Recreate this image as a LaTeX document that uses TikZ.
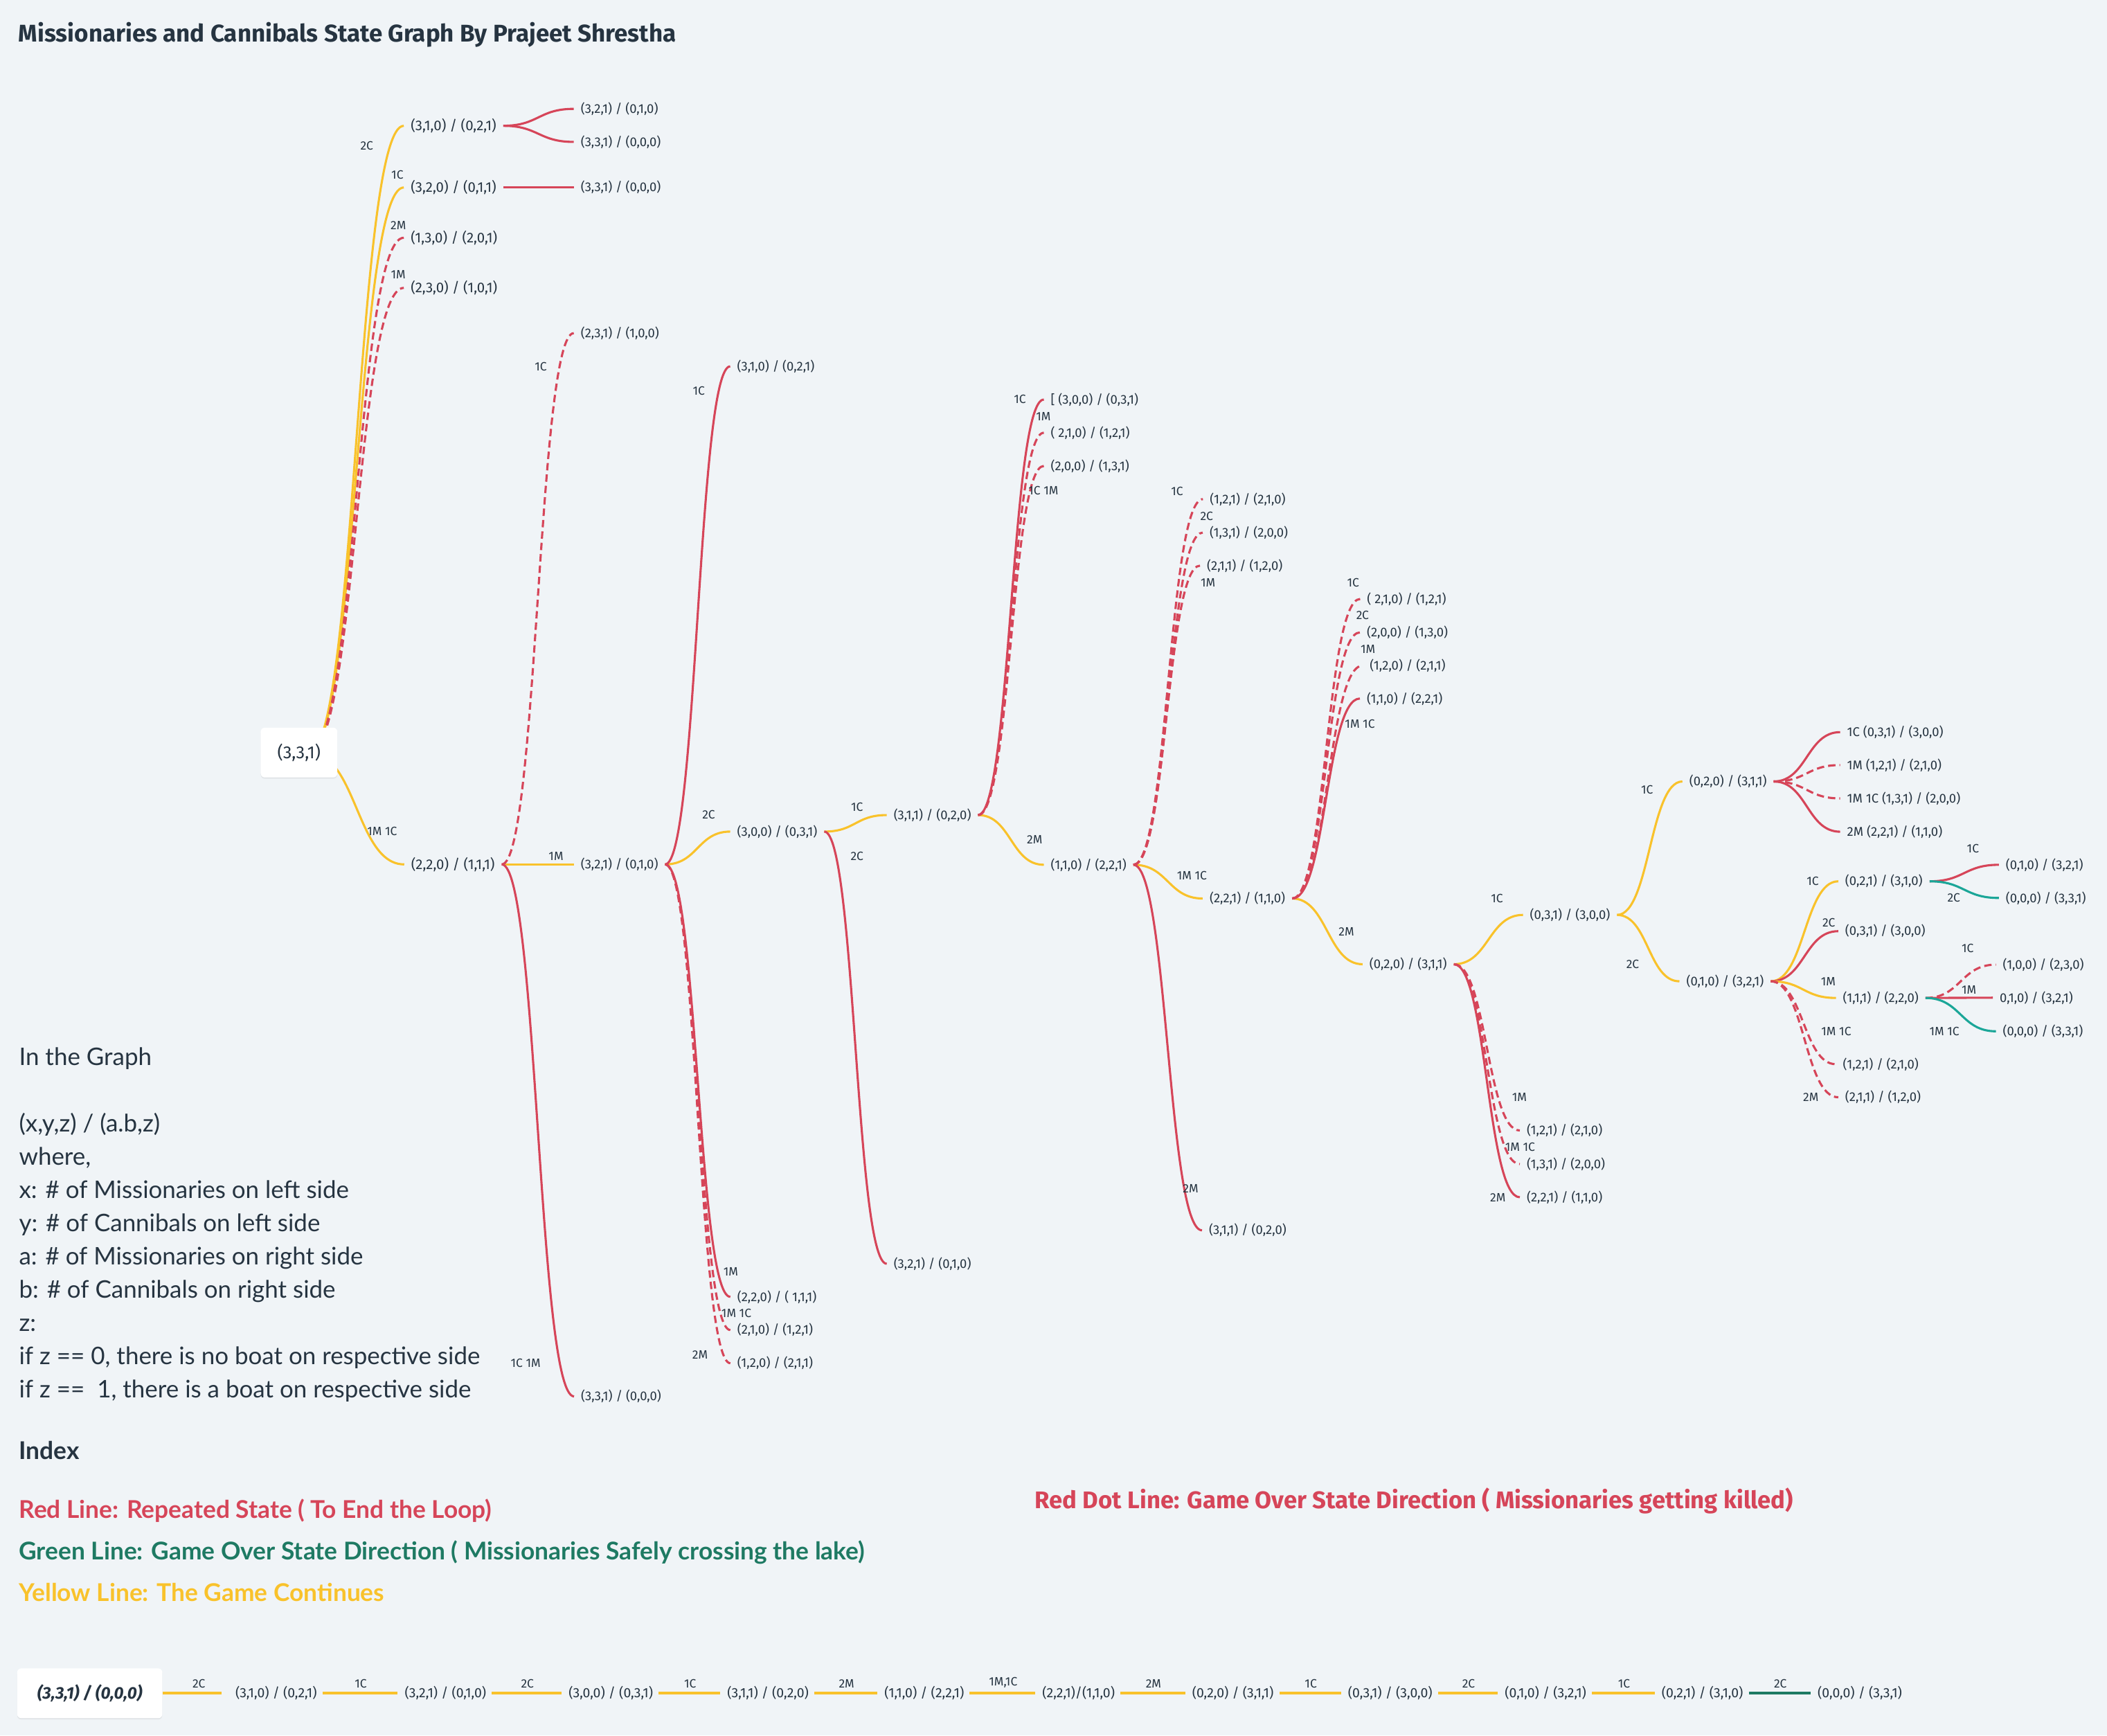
\documentclass[tikz,border=0pt]{standalone}
\usepackage{fontspec}
\setmainfont{Lato}
\newfontfamily\statefont{Fira Sans}
\usetikzlibrary{calc,shadows}

\definecolor{bgcol}{RGB}{240,244,247}
\definecolor{mcred}{RGB}{214,69,89}
\definecolor{mcyellow}{RGB}{249,194,43}
\definecolor{mcteal}{RGB}{27,166,152}
\definecolor{mcgreen}{RGB}{30,122,99}
\definecolor{ink}{RGB}{38,52,65}

\begin{document}
\begin{tikzpicture}[%
 x=1pt, y=-1pt,
 state/.style={
 	anchor=west,
 	inner xsep=5pt,
 	inner ysep=1pt,
 	text=ink,
 	font=\statefont\fontsize{9.5}{10}\selectfont
 },
 state1/.style={
 	state,
 	font=\statefont\fontsize{10.5}{12}\selectfont
 },
 move/.style={
 	text=ink,
 	inner sep=1pt,
 	font=\statefont\fontsize{9}{10}\selectfont
 },
 link/.style={
 	line width=1.6pt,
 	to path={let \p1=(\tikztostart), \p2=(\tikztotarget) in
 	 .. controls ({(\x1+\x2)/2},\y1) and ({(\x1+\x2)/2},\y2) .. (\tikztotarget)}
 },
 golink/.style={link, draw=mcyellow},
 replink/.style={link, draw=mcred},
 deadlink/.style={link, draw=mcred, dash pattern=on 5.5pt off 3pt},
 winlink/.style={link, draw=mcteal},
 notetext/.style={
 	anchor=base west,
 	inner sep=0pt,
 	text=ink,
 	font=\fontsize{18}{22}\selectfont
 },
 keytext/.style={
 	anchor=base west,
 	inner sep=0pt,
 	font=\bfseries\fontsize{18.2}{22}\selectfont
 },
 whitebox/.style={
 	fill=white,
 	rounded corners=3pt,
 	text=ink,
 	drop shadow={shadow xshift=0pt, shadow yshift=-1pt, opacity=0.06, fill=black}
 },
 seqstate/.style={
 	anchor=west,
 	inner xsep=0pt,
 	text=ink,
 	font=\statefont\fontsize{10}{11}\selectfont
 },
 seqline/.style={
 	line width=2.2pt,
 	draw=mcyellow,
 	shorten <=4pt,
 	shorten >=5pt
 }
 ]
\useasboundingbox (0,0) rectangle (1568,1291.3);
\fill[bgcol] (0,0) rectangle (1568,1291.3);

\node[anchor=base west, inner sep=0pt, text=ink, font=\statefont\bfseries\fontsize{18}{22}\selectfont] (title) at (13.7,31.4) {Missionaries and Cannibals State Graph By Prajeet Shrestha};

% states
\coordinate (rootc) at (230,560);
\path (300.5,93.6) node[state1] (A1) {(3,1,0) / (0,2,1)}
 (300.5,139.5) node[state1] (A2) {(3,2,0) / (0,1,1)}
 (300.5,176.9) node[state1] (A3) {(1,3,0) / (2,0,1)}
 (300.5,214.2) node[state1] (A4) {(2,3,0) / (1,0,1)}
 (300.8,643.2) node[state1] (A5) {(2,2,0) / (1,1,1)};
\path (427,81) node[state] (B1) {(3,2,1) / (0,1,0)}
 (427,105.6) node[state] (B2) {(3,3,1) / (0,0,0)}
 (427,139.5) node[state] (B3) {(3,3,1) / (0,0,0)}
 (427,247.9) node[state] (B4) {(2,3,1) / (1,0,0)}
 (427,643.2) node[state] (B5) {(3,2,1) / (0,1,0)}
 (427.2,1039.1) node[state] (B6) {(3,3,1) / (0,0,0)};
\path (543.4,272.6) node[state] (C1) {(3,1,0) / (0,2,1)}
 (543.4,618.8) node[state] (C2) {(3,0,0) / (0,3,1)}
 (543.5,965) node[state] (C3) {(2,2,0) / ( 1,1,1)}
 (543.5,989.7) node[state] (C4) {(2,1,0) / (1,2,1)}
 (543.5,1014.4) node[state] (C5) {(1,2,0) / (2,1,1)};
\path (659.9,606.5) node[state] (D1) {(3,1,1) / (0,2,0)}
 (659.9,940.4) node[state] (D2) {(3,2,1) / (0,1,0)};
\path (776.8,297.3) node[state] (E1) {[ (3,0,0) / (0,3,1)}
 (776.8,322) node[state] (E2) {( 2,1,0) / (1,2,1)}
 (776.8,346.7) node[state] (E3) {(2,0,0) / (1,3,1)}
 (776.8,643.5) node[state] (E4) {(1,1,0) / (2,2,1)};
\path (895.2,371.4) node[state] (F1) {(1,2,1) / (2,1,0)}
 (895,396.3) node[state] (F2) {(1,3,1) / (2,0,0)}
 (893,420.9) node[state] (F3) {(2,1,1) / (1,2,0)}
 (895,668.6) node[state] (F4) {(2,2,1) / (1,1,0)}
 (894.5,915.5) node[state] (F5) {(3,1,1) / (0,2,0)};
\path (1012.2,445.7) node[state] (G1) {( 2,1,0) / (1,2,1)}
 (1012,470.6) node[state] (G2) {(2,0,0) / (1,3,0)}
 (1014.2,495.2) node[state] (G3) {(1,2,0) / (2,1,1)}
 (1012,519.8) node[state] (G4) {(1,1,0) / (2,2,1)}
 (1014,717.5) node[state] (G5) {(0,2,0) / (3,1,1)};
\path (1133.4,680.8) node[state] (H1) {(0,3,1) / (3,0,0)}
 (1131,841.2) node[state] (H2) {(1,2,1) / (2,1,0)}
 (1131,866.2) node[state] (H3) {(1,3,1) / (2,0,0)}
 (1131,890.9) node[state] (H4) {(2,2,1) / (1,1,0)};
\path (1252,581.5) node[state] (I1) {(0,2,0) / (3,1,1)}
 (1249.8,730.2) node[state] (I2) {(0,1,0) / (3,2,1)};
\path (1369.4,544.8) node[state] (J1) {1C (0,3,1) / (3,0,0)}
 (1369.4,569.3) node[state] (J2) {1M (1,2,1) / (2,1,0)}
 (1369.4,594.1) node[state] (J3) {1M 1C (1,3,1) / (2,0,0)}
 (1369.4,618.9) node[state] (J4) {2M (2,2,1) / (1,1,0)}
 (1368,655.8) node[state] (J5) {(0,2,1) / (3,1,0)}
 (1368,692.9) node[state] (J6) {(0,3,1) / (3,0,0)}
 (1366.3,742.6) node[state] (J7) {(1,1,1) / (2,2,0)}
 (1366.3,791.9) node[state] (J8) {(1,2,1) / (2,1,0)}
 (1368,816.5) node[state] (J9) {(2,1,1) / (1,2,0)};
\path (1487.5,643.5) node[state] (K1) {(0,1,0) / (3,2,1)}
 (1487.5,668.2) node[state] (K2) {(0,0,0) / (3,3,1)}
 (1485.3,717.8) node[state] (K3) {(1,0,0) / (2,3,0)}
 (1483,742.4) node[state] (K4) {0,1,0) / (3,2,1)}
 (1485.3,767.4) node[state] (K5) {(0,0,0) / (3,3,1)};

% connectors
\draw[golink] (rootc) to (A1.west);
\draw[golink] (rootc) to (A2.west);
\draw[deadlink] (rootc) to (A3.west);
\draw[deadlink] (rootc) to (A4.west);
\draw[golink] (rootc) to (A5.west);
\draw[replink] (A1.east) to (B1.west);
\draw[replink] (A1.east) to (B2.west);
\draw[replink] (A2.east) to (B3.west);
\draw[golink] (A5.east) to (B5.west);
\draw[deadlink] (A5.east) to (B4.west);
\draw[replink] (A5.east) to (B6.west);
\draw[golink] (B5.east) to (C2.west);
\draw[replink] (B5.east) to (C1.west);
\draw[replink] (B5.east) to (C3.west);
\draw[deadlink] (B5.east) to (C4.west);
\draw[deadlink] (B5.east) to (C5.west);
\draw[golink] (C2.east) to (D1.west);
\draw[replink] (C2.east) to (D2.west);
\draw[golink] (D1.east) to (E4.west);
\draw[replink] (D1.east) to (E1.west);
\draw[deadlink] (D1.east) to (E2.west);
\draw[deadlink] (D1.east) to (E3.west);
\draw[golink] (E4.east) to (F4.west);
\draw[deadlink] (E4.east) to (F1.west);
\draw[deadlink] (E4.east) to (F2.west);
\draw[deadlink] (E4.east) to (F3.west);
\draw[replink] (E4.east) to (F5.west);
\draw[golink] (F4.east) to (G5.west);
\draw[deadlink] (F4.east) to (G1.west);
\draw[deadlink] (F4.east) to (G2.west);
\draw[deadlink] (F4.east) to (G3.west);
\draw[replink] (F4.east) to (G4.west);
\draw[golink] (G5.east) to (H1.west);
\draw[deadlink] (G5.east) to (H2.west);
\draw[deadlink] (G5.east) to (H3.west);
\draw[replink] (G5.east) to (H4.west);
\draw[golink] (H1.east) to (I1.west);
\draw[golink] (H1.east) to (I2.west);
\draw[replink] (I1.east) to (J1.west);
\draw[deadlink] (I1.east) to (J2.west);
\draw[deadlink] (I1.east) to (J3.west);
\draw[replink] (I1.east) to (J4.west);
\draw[golink] (I2.east) to (J5.west);
\draw[replink] (I2.east) to (J6.west);
\draw[golink] (I2.east) to (J7.west);
\draw[deadlink] (I2.east) to (J8.west);
\draw[deadlink] (I2.east) to (J9.west);
\draw[replink] (J5.east) to (K1.west);
\draw[winlink] (J5.east) to (K2.west);
\draw[deadlink] (J7.east) to (K3.west);
\draw[replink] (J7.east) to (K4.west);
\draw[winlink] (J7.east) to (K5.west);

% moves
\node[move] (lA1) at (273,108.6) {2C};
\node[move] (lA2) at (295.7,130.2) {1C};
\node[move] (lA3) at (296.4,167.5) {2M};
\node[move] (lA4) at (296.4,204.4) {1M};
\node[move] (lA5) at (284.4,618.6) {1M 1C};
\node[move] (lB4) at (402.4,272.6) {1C};
\node[move] (lB5) at (413.8,637.3) {1M};
\node[move] (lB6) at (391.2,1014.4) {1C 1M};
\node[move] (lC1) at (520,291) {1C};
\node[move] (lC2) at (527.4,606.2) {2C};
\node[move] (lC3) at (543.8,946.4) {1M};
\node[move] (lC4) at (548,977.3) {1M 1C};
\node[move] (lC5) at (521,1008.2) {2M};
\node[move] (lD1) at (637.8,600.4) {1C};
\node[move] (lD2) at (637.8,637.2) {2C};
\node[move] (lE1) at (759,297.3) {1C};
\node[move] (lE2) at (776.5,309.7) {1M};
\node[move] (lE3) at (776.5,365.3) {1C 1M};
\node[move] (lE4) at (770,625) {2M};
\node[move] (lF1) at (876,365.6) {1C};
\node[move] (lF2) at (898,384) {2C};
\node[move] (lF3) at (899,433.5) {1M};
\node[move] (lF4) at (887,651.8) {1M 1C};
\node[move] (lF5) at (886,884.6) {2M};
\node[move] (lG1) at (1007,433.5) {1C};
\node[move] (lG2) at (1014,457.6) {2C};
\node[move] (lG3) at (1018,482.8) {1M};
\node[move] (lG4) at (1012,538.7) {1M 1C};
\node[move] (lG5) at (1002,693.2) {2M};
\node[move] (lH1) at (1114,668.6) {1C};
\node[move] (lH2) at (1130.7,816.5) {1M};
\node[move] (lH3) at (1131.2,853.6) {1M 1C};
\node[move] (lH4) at (1114.7,890.9) {2M};
\node[move] (lI1) at (1225.7,587.7) {1C};
\node[move] (lI2) at (1215,717.5) {2C};
\node[move] (lJ5) at (1349,655.8) {1C};
\node[move] (lJ6) at (1361,686.8) {2C};
\node[move] (lJ7) at (1360.5,730.2) {1M};
\node[move] (lJ8) at (1366.5,767.3) {1M 1C};
\node[move] (lJ9) at (1347.6,816.5) {2M};
\node[move] (lK1) at (1468.2,631.3) {1C};
\node[move] (lK2) at (1454,668.2) {2C};
\node[move] (lK3) at (1464.3,705.4) {1C};
\node[move] (lK4) at (1465.3,736.4) {1M};
\node[move] (lK5) at (1447,767.4) {1M 1C};

% root on top of its lines
\node[whitebox, minimum width=57pt, minimum height=37pt, font=\statefont\fontsize{13}{15}\selectfont] (root) at (222.5,560) {(3,3,1)};

% notes
\path (14,793) node[notetext] (note1) {In the Graph}
 (14,842.4) node[notetext] (note2) {(x,y,z) / (a.b,z)}
 (14,867.1) node[notetext] (note3) {where,}
 (14,891.8) node[notetext] (note4) {x: \# of Missionaries on left side}
 (14,916.5) node[notetext] (note5) {y: \# of Cannibals on left side}
 (14,941.2) node[notetext] (note6) {a: \# of Missionaries on right side}
 (14,965.9) node[notetext] (note7) {b: \# of Cannibals on right side}
 (14,990.6) node[notetext] (note8) {z:}
 (14,1015.3) node[notetext] (note9) {if z == 0, there is no boat on respective side}
 (14,1040) node[notetext] (note10) {if z == \ 1, there is a boat on respective side};

% index
\node[keytext, text=ink] (idx) at (14,1085.8) {Index};
\node[keytext, text=mcred] (keyred) at (14,1129.6) {Red Line: Repeated State ( To End the Loop)};
\node[keytext, text=mcgreen] (keygreen) at (14,1160.5) {Green Line: Game Over State Direction ( Missionaries Safely crossing the lake)};
\node[keytext, text=mcyellow] (keyyellow) at (14,1191.4) {Yellow Line: The Game Continues};
\node[keytext, text=mcred, font=\statefont\bfseries\fontsize{17.9}{22}\selectfont] (keydot) at (770,1122.5) {Red Dot Line: Game Over State Direction ( Missionaries getting killed)};

% solution path
\node[whitebox, minimum width=108pt, minimum height=37pt, font=\statefont\bfseries\itshape\fontsize{12.5}{15}\selectfont] (s0) at (66.8,1260) {(3,3,1) / (0,0,0)};
\path (175,1260) node[seqstate] (s1) {(3,1,0) / (0,2,1)}
 (301,1260) node[seqstate] (s2) {(3,2,1) / (0,1,0)}
 (423,1260) node[seqstate] (s3) {(3,0,0) / (0,3,1)}
 (541,1260) node[seqstate] (s4) {(3,1,1) / (0,2,0)}
 (658,1260) node[seqstate] (s5) {(1,1,0) / (2,2,1)}
 (775.5,1260) node[seqstate] (s6) {(2,2,1)/(1,1,0)}
 (887,1260) node[seqstate] (s7) {(0,2,0) / (3,1,1)}
 (1003,1260) node[seqstate] (s8) {(0,3,1) / (3,0,0)}
 (1119.7,1260) node[seqstate] (s9) {(0,1,0) / (3,2,1)}
 (1236.4,1260) node[seqstate] (s10) {(0,2,1) / (3,1,0)}
 (1352.5,1260) node[seqstate] (s11) {(0,0,0) / (3,3,1)};
\draw[seqline, shorten <=0pt, shorten >=10pt] (s0.east) -- node[move, above=2pt] {2C} (s1.west);
\draw[seqline] (s1.east) -- node[move, above=2pt] {1C} (s2.west);
\draw[seqline] (s2.east) -- node[move, above=2pt] {2C} (s3.west);
\draw[seqline] (s3.east) -- node[move, above=2pt] {1C} (s4.west);
\draw[seqline] (s4.east) -- node[move, above=2pt] {2M} (s5.west);
\draw[seqline] (s5.east) -- node[move, above=2pt] {1M,1C} (s6.west);
\draw[seqline] (s6.east) -- node[move, above=2pt] {2M} (s7.west);
\draw[seqline] (s7.east) -- node[move, above=2pt] {1C} (s8.west);
\draw[seqline] (s8.east) -- node[move, above=2pt] {2C} (s9.west);
\draw[seqline] (s9.east) -- node[move, above=2pt] {1C} (s10.west);
\draw[seqline, draw=mcgreen] (s10.east) -- node[move, above=2pt] {2C} (s11.west);
\end{tikzpicture}
\end{document}
